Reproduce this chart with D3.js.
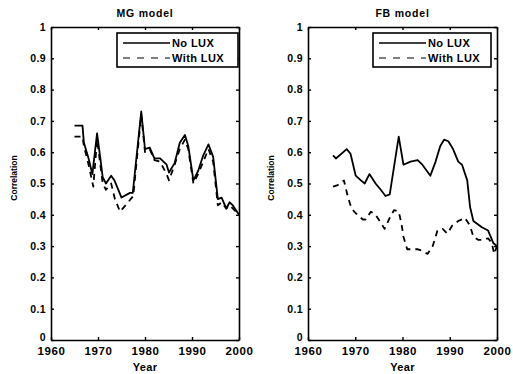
<!DOCTYPE html>
<html><head><meta charset="utf-8">
<script src="https://cdn.jsdelivr.net/npm/d3@7/dist/d3.min.js"></script>
<style>body{margin:0;background:#fff}svg{display:block}</style>
</head><body>
<svg id="c" width="513" height="374"></svg>
<script>
const titles = ["MG model", "FB model"];
const seriesNames = ["No LUX", "With LUX"];
const xTicks = [1960, 1970, 1980, 1990, 2000];
const yTicks = [0, 0.1, 0.2, 0.3, 0.4, 0.5, 0.6, 0.7, 0.8, 0.9, 1];
const yTickLabels = ["0", "0.1", "0.2", "0.3", "0.4", "0.5", "0.6", "0.7", "0.8", "0.9", "1"];

const mgYears = [1965, 1966.7, 1967, 1968, 1968.8, 1969.8, 1970.5, 1971, 1971.7, 1972.8, 1973.5, 1975, 1976.8, 1977.4, 1979.2, 1980, 1981, 1982, 1983.2, 1984.6, 1985.1, 1986.3, 1987.4, 1988.5, 1989.2, 1990.3, 1991.3, 1992.4, 1993.5, 1994.5, 1995.5, 1996.3, 1997.3, 1998, 1998.7, 2000];
const mgNoLux = [0.685, 0.685, 0.63, 0.58, 0.53, 0.66, 0.58, 0.52, 0.50, 0.525, 0.51, 0.455, 0.47, 0.47, 0.73, 0.61, 0.615, 0.58, 0.58, 0.56, 0.535, 0.565, 0.63, 0.655, 0.62, 0.51, 0.54, 0.59, 0.625, 0.585, 0.45, 0.455, 0.42, 0.44, 0.43, 0.40];
const mgWithYears = [1965, 1966.7, 1967, 1968, 1969, 1969.8, 1970.5, 1971, 1971.7, 1972.8, 1973.6, 1974.7, 1976.4, 1977.5, 1979.2, 1980, 1981, 1982, 1983.2, 1984.6, 1985.1, 1986.3, 1987.4, 1988.5, 1989.2, 1990.3, 1991.3, 1992.4, 1993.5, 1994.5, 1995.5, 1996.3, 1997.3, 1998, 1998.7, 2000];
const mgWithLux = [0.65, 0.65, 0.62, 0.56, 0.49, 0.64, 0.56, 0.50, 0.48, 0.50, 0.45, 0.41, 0.44, 0.46, 0.72, 0.60, 0.61, 0.575, 0.57, 0.53, 0.51, 0.56, 0.61, 0.64, 0.61, 0.50, 0.53, 0.57, 0.61, 0.57, 0.43, 0.44, 0.42, 0.43, 0.42, 0.40];

const fbYears = [1965.3, 1965.9, 1968.2, 1969, 1970.1, 1971.2, 1972, 1973, 1974.3, 1975.4, 1976.4, 1977.3, 1979.2, 1980.2, 1981.7, 1983.2, 1984.2, 1985.9, 1987, 1988, 1988.8, 1989.7, 1990.7, 1991.8, 1992.6, 1993.7, 1994.3, 1995, 1996.8, 1998.1, 1999.2, 2000];
const fbNoLux = [0.59, 0.58, 0.61, 0.595, 0.525, 0.51, 0.50, 0.53, 0.50, 0.48, 0.46, 0.465, 0.65, 0.56, 0.57, 0.575, 0.56, 0.525, 0.57, 0.62, 0.64, 0.635, 0.61, 0.57, 0.56, 0.51, 0.425, 0.38, 0.36, 0.35, 0.31, 0.30];
const fbWithYears = [1965.3, 1966.3, 1967.6, 1968.4, 1969.2, 1970.1, 1971.6, 1972.2, 1973.3, 1974.3, 1975.4, 1976.2, 1977.3, 1978.2, 1979.2, 1979.8, 1980.2, 1981, 1982.3, 1983.1, 1984.2, 1985.3, 1986.4, 1987.4, 1988.5, 1989.5, 1990.5, 1991.8, 1993.2, 1994.3, 1995, 1996, 1997, 1998.1, 1998.9, 1999.4, 2000];
const fbWithLux = [0.49, 0.495, 0.51, 0.46, 0.42, 0.405, 0.385, 0.385, 0.41, 0.40, 0.375, 0.355, 0.39, 0.415, 0.41, 0.37, 0.33, 0.29, 0.29, 0.29, 0.285, 0.275, 0.30, 0.35, 0.355, 0.34, 0.365, 0.38, 0.39, 0.365, 0.33, 0.32, 0.32, 0.325, 0.31, 0.275, 0.30];

const panels = [
  {title: titles[0], left: 51, right: 239, series: [[mgYears, mgNoLux], [mgWithYears, mgWithLux]], legend: [117, 238], ylab: 17},
  {title: titles[1], left: 308, right: 497, series: [[fbYears, fbNoLux], [fbWithYears, fbWithLux]], legend: [373, 491], ylab: 274}
];
const plotTop = 27, plotBottom = 340;
const font = "'Liberation Sans', Arial, sans-serif";
const svg = d3.select("#c");

panels.forEach(p => {
  const x = d3.scaleLinear().domain([1960, 2000]).range([p.left, p.right]);
  const y = d3.scaleLinear().domain([0, 1]).range([plotBottom, plotTop]);
  const g = svg.append("g");

  const axB = g.append("g").attr("transform", `translate(0,${plotBottom})`)
    .call(d3.axisBottom(x).tickValues(xTicks).tickFormat(d3.format("d")).tickSizeInner(-3).tickSizeOuter(0).tickPadding(7));
  const axT = g.append("g").attr("transform", `translate(0,${plotTop})`)
    .call(d3.axisTop(x).tickValues(xTicks).tickFormat("").tickSizeInner(-3).tickSizeOuter(0));
  const axL = g.append("g").attr("transform", `translate(${p.left},0)`)
    .call(d3.axisLeft(y).tickValues(yTicks).tickFormat((d, i) => yTickLabels[i]).tickSizeInner(-3).tickSizeOuter(0).tickPadding(5));
  const axR = g.append("g").attr("transform", `translate(${p.right},0)`)
    .call(d3.axisRight(y).tickValues(yTicks).tickFormat("").tickSizeInner(-3).tickSizeOuter(0));
  [axB, axT, axL, axR].forEach(a => {
    a.select(".domain").attr("stroke", "#000").attr("stroke-width", 1.6);
    a.selectAll(".tick line").attr("stroke", "#000").attr("stroke-width", 1.4);
    a.selectAll("text").attr("font-family", font).attr("font-weight", "bold").attr("fill", "#000");
  });
  axB.selectAll("text").attr("font-size", 11.5).attr("letter-spacing", "0.6px");
  axL.selectAll("text").attr("font-size", 10.5).attr("letter-spacing", "0.4px");
  axL.selectAll(".tick").filter(d => d === 0).select("text").attr("dy", "0.05em");

  const line = d3.line().x(d => x(d[0])).y(d => y(d[1]));
  p.series.forEach((s, i) => {
    const pts = s[0].map((yr, k) => [yr, s[1][k]]);
    g.append("path").datum(pts).attr("d", line).attr("fill", "none")
      .attr("stroke", "#000").attr("stroke-width", 1.8)
      .attr("stroke-linejoin", "round")
      .attr("stroke-dasharray", i === 1 ? "6,5" : null);
  });

  g.append("text").attr("x", (p.left + p.right) / 2).attr("y", 17).attr("text-anchor", "middle")
    .attr("font-family", font).attr("font-size", 10.5).attr("letter-spacing", "0.8px").attr("font-weight", "bold").text(p.title);
  g.append("text").attr("x", (p.left + p.right) / 2).attr("y", 371).attr("text-anchor", "middle")
    .attr("font-family", font).attr("font-size", 11).attr("letter-spacing", "0.3px").attr("font-weight", "bold").text("Year");
  g.append("text").attr("transform", `translate(${p.ylab},178) rotate(-90)`).attr("text-anchor", "middle")
    .attr("font-family", font).attr("font-size", 8.5).attr("font-weight", "bold").text("Correlation");

  const [lx0, lx1] = p.legend;
  const ly0 = 33, ly1 = 67;
  g.append("rect").attr("x", lx0).attr("y", ly0).attr("width", lx1 - lx0).attr("height", ly1 - ly0)
    .attr("fill", "#fff").attr("stroke", "#000").attr("stroke-width", 1.6);
  seriesNames.forEach((n, i) => {
    const yy = 43 + i * 15;
    g.append("line").attr("x1", lx0 + 6).attr("x2", lx0 + 53).attr("y1", yy).attr("y2", yy)
      .attr("stroke", "#000").attr("stroke-width", i === 0 ? 1.7 : 1.2)
      .attr("stroke-dasharray", i === 1 ? "7,7" : null);
    g.append("text").attr("x", lx0 + 55).attr("y", yy + 4)
      .attr("font-family", font).attr("font-size", 11).attr("letter-spacing", "0.4px").attr("font-weight", "bold").text(n);
  });
});
</script>
</body></html>
